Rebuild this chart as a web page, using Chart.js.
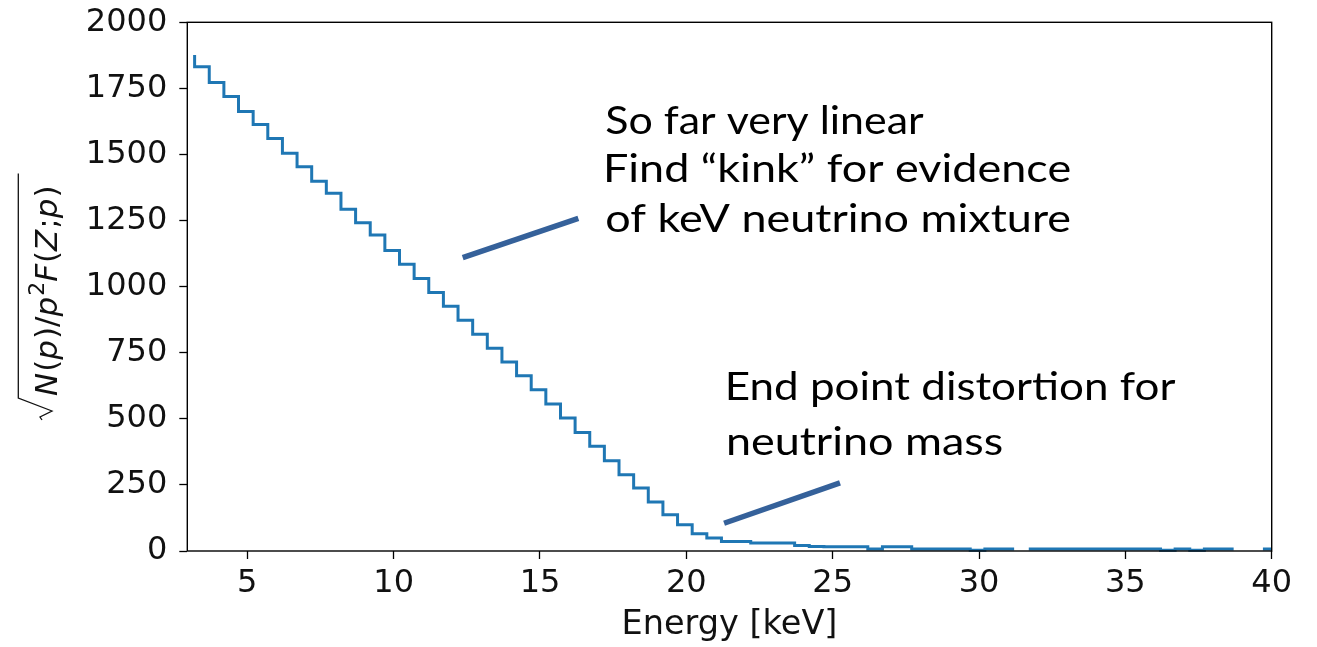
<!DOCTYPE html>
<html>
<head>
<meta charset="utf-8">
<script src="https://cdn.jsdelivr.net/npm/chart.js@4.4.1/dist/chart.umd.min.js"></script>
<style>
html,body{margin:0;padding:0;background:#fff;}
#wrap{width:1317px;height:647px;position:relative;}
</style>
</head>
<body>
<div id="wrap"><canvas id="c" width="1317" height="647"></canvas></div>
<script>
// ---- data (bin right edges in keV, step values) ----
const energies = [3.2, 3.7, 4.2, 4.7, 5.2, 5.7, 6.2, 6.7, 7.2, 7.7,
  8.2, 8.7, 9.2, 9.7, 10.2, 10.7, 11.2, 11.7, 12.2, 12.7,
  13.2, 13.7, 14.2, 14.7, 15.2, 15.7, 16.2, 16.7, 17.2, 17.7,
  18.2, 18.7, 19.2, 19.7, 20.2, 20.7, 21.2, 21.7, 22.2, 22.7,
  23.2, 23.7, 24.2, 24.7, 25.2, 25.7, 26.2, 26.7, 27.2, 27.7,
  28.2, 28.7, 29.2, 29.7, 30.2, 30.7, 31.2, 31.7, 32.2, 32.7,
  33.2, 33.7, 34.2, 34.7, 35.2, 35.7, 36.2, 36.7, 37.2, 37.7,
  38.2, 38.7, 39.2, 39.7, 40.2];
const kurieValues = [1876, 1832, 1772, 1719, 1663, 1613, 1560, 1505, 1454, 1399,
  1353, 1293, 1242, 1195, 1137, 1085, 1031, 978, 926, 873,
  820, 767, 715, 663, 610, 556, 503, 448, 396, 341,
  288, 238, 185, 137, 99, 65, 49, 36, 36, 30,
  30, 30, 21, 17, 16, 16, 16, 8, 16, 16,
  8, 8, 8, 8, 3, 8, 8, null, 8, 8,
  8, 8, 8, 8, 8, 8, 8, 3, 8, 3,
  8, 8, null, null, 8];
const xTickValues = [5, 10, 15, 20, 25, 30, 35, 40];
const yTickValues = [0, 250, 500, 750, 1000, 1250, 1500, 1750, 2000];
const xAxisTitle = 'Energy [keV]';
// y-axis label pieces (mathtext): [text, style]
const yTitleParts = [['N','it'],['(','rm'],['p','it'],[')','rm'],['/','rm'],['p','it'],['2','sup'],
  ['F','it'],['(','rm'],['Z','it'],[';','rm'],['p','it'],[')','rm']];
// slide annotations
const noteTopLines = ['So far very linear', 'Find \u201ckink\u201d for evidence', 'of keV neutrino mixture'];
const noteBottomLines = ['End point distortion for', 'neutrino mass'];
// annotation pointer lines in data coordinates [E1, v1, E2, v2]
const pointerTop = [12.36, 1110, 16.31, 1258];
const pointerBottom = [21.29, 105, 25.25, 258];

// ---- build step (matplotlib "pre") vertices from the arrays ----
const stepPoints = [{x: energies[0], y: kurieValues[0]}];
for (let k = 1; k < energies.length; k++) {
  const v = kurieValues[k];
  stepPoints.push({x: energies[k-1], y: v});
  stepPoints.push({x: energies[k], y: v});
}

const TXT = '#111';
const NOTE_COLOR = '#35619A';

const overlay = {
  id: 'overlay',
  afterDatasetsDraw(chart) {
    const {ctx, chartArea: a} = chart;
    ctx.save();
    ctx.strokeStyle = '#000';
    ctx.lineWidth = 1.4;
    ctx.strokeRect(a.left, a.top, a.right - a.left, a.bottom - a.top);
    ctx.restore();
  },
  afterDraw(chart) {
    const {ctx, chartArea: a, scales: {x, y}} = chart;
    // x title
    ctx.save();
    ctx.fillStyle = TXT;
    ctx.font = '33.5px "DejaVu Sans"';
    ctx.textAlign = 'center';
    ctx.textBaseline = 'alphabetic';
    ctx.fillText(xAxisTitle, (a.left + a.right) / 2, 634);
    ctx.restore();

    // y title (rotated mathtext)
    const S = 31;
    ctx.save();
    ctx.translate(57, 420);
    ctx.rotate(-Math.PI / 2);
    ctx.fillStyle = TXT;
    ctx.textBaseline = 'alphabetic';
    ctx.textAlign = 'left';
    let u = 24;
    for (const [t, st] of yTitleParts) {
      let dy = 0;
      if (st === 'it') ctx.font = 'oblique ' + S + 'px "DejaVu Sans"';
      else if (st === 'sup') { ctx.font = Math.round(S * 0.7) + 'px "DejaVu Sans"'; dy = -S * 0.42; }
      else ctx.font = S + 'px "DejaVu Sans"';
      ctx.fillText(t, u, dy);
      u += ctx.measureText(t).width + (st === 'it' ? 1 : 0);
    }
    ctx.strokeStyle = TXT;
    ctx.lineWidth = 1.3;
    ctx.beginPath();
    ctx.moveTo(0, -15);
    ctx.lineTo(3, -17);
    ctx.lineTo(9, -5);
    ctx.lineTo(22, -38.7);
    ctx.lineTo(u + 12, -38.7);
    ctx.stroke();
    ctx.restore();

    // pointer lines
    ctx.save();
    ctx.strokeStyle = NOTE_COLOR;
    ctx.lineWidth = 5.5;
    ctx.lineCap = 'butt';
    for (const p of [pointerTop, pointerBottom]) {
      ctx.beginPath();
      ctx.moveTo(x.getPixelForValue(p[0]), y.getPixelForValue(p[1]));
      ctx.lineTo(x.getPixelForValue(p[2]), y.getPixelForValue(p[3]));
      ctx.stroke();
    }
    ctx.restore();

    // annotation texts
    const drawNote = (lines, leftE, baseVals, widths) => {
      ctx.save();
      ctx.fillStyle = '#000';
      ctx.font = '39px Lato';
      ctx.textBaseline = 'alphabetic';
      ctx.textAlign = 'left';
      lines.forEach((t, i) => {
        const m = ctx.measureText(t);
        const ink = m.actualBoundingBoxRight + m.actualBoundingBoxLeft;
        const sx = widths[i] / ink;
        const px = x.getPixelForValue(leftE);
        const py = y.getPixelForValue(baseVals[i]);
        ctx.save();
        ctx.translate(px + m.actualBoundingBoxLeft * sx, py);
        ctx.scale(sx, 1);
        ctx.fillText(t, 0, 0);
        ctx.restore();
      });
      ctx.restore();
    };
    drawNote(noteTopLines, 17.27, [1579, 1396, 1207], [317, 464, 464]);
    drawNote(noteBottomLines, 21.43, [571, 363], [447, 274]);
  }
};

new Chart(document.getElementById('c'), {
  type: 'line',
  data: {
    datasets: [{
      data: stepPoints,
      borderColor: '#1f77b4',
      borderWidth: 3,
      pointRadius: 0,
      fill: false,
      tension: 0,
      spanGaps: false,
      borderJoinStyle: 'miter',
      borderCapStyle: 'butt',
      clip: {left: 0, right: 0, top: 10, bottom: 2}
    }]
  },
  options: {
    responsive: false,
    animation: false,
    events: [],
    layout: {padding: {top: 22.3, right: 45.3, left: 0, bottom: 0}},
    plugins: {legend: {display: false}, tooltip: {enabled: false}},
    scales: {
      x: {
        type: 'linear',
        min: 2.95,
        max: 40,
        afterBuildTicks: s => { s.ticks = xTickValues.map(v => ({value: v})); },
        afterFit: s => { s.height = 96; s.paddingLeft = 0; s.paddingRight = 0; },
        grid: {drawOnChartArea: false, drawTicks: true, tickLength: 8, tickColor: '#000', tickWidth: 1.3},
        border: {display: false},
        ticks: {font: {family: 'DejaVu Sans', size: 32}, color: TXT, padding: 5, maxRotation: 0, autoSkip: false,
                callback: v => String(v)}
      },
      y: {
        type: 'linear',
        min: 0,
        max: 2000,
        afterBuildTicks: s => { s.ticks = yTickValues.map(v => ({value: v})); },
        afterFit: s => { s.width = 187.3; s.paddingTop = 0; s.paddingBottom = 0; },
        grid: {drawOnChartArea: false, drawTicks: true, tickLength: 8, tickColor: '#000', tickWidth: 1.3},
        border: {display: false},
        ticks: {font: {family: 'DejaVu Sans', size: 32}, color: TXT, padding: 12, autoSkip: false,
                callback: v => String(v)}
      }
    }
  },
  plugins: [overlay]
});
</script>
</body>
</html>
